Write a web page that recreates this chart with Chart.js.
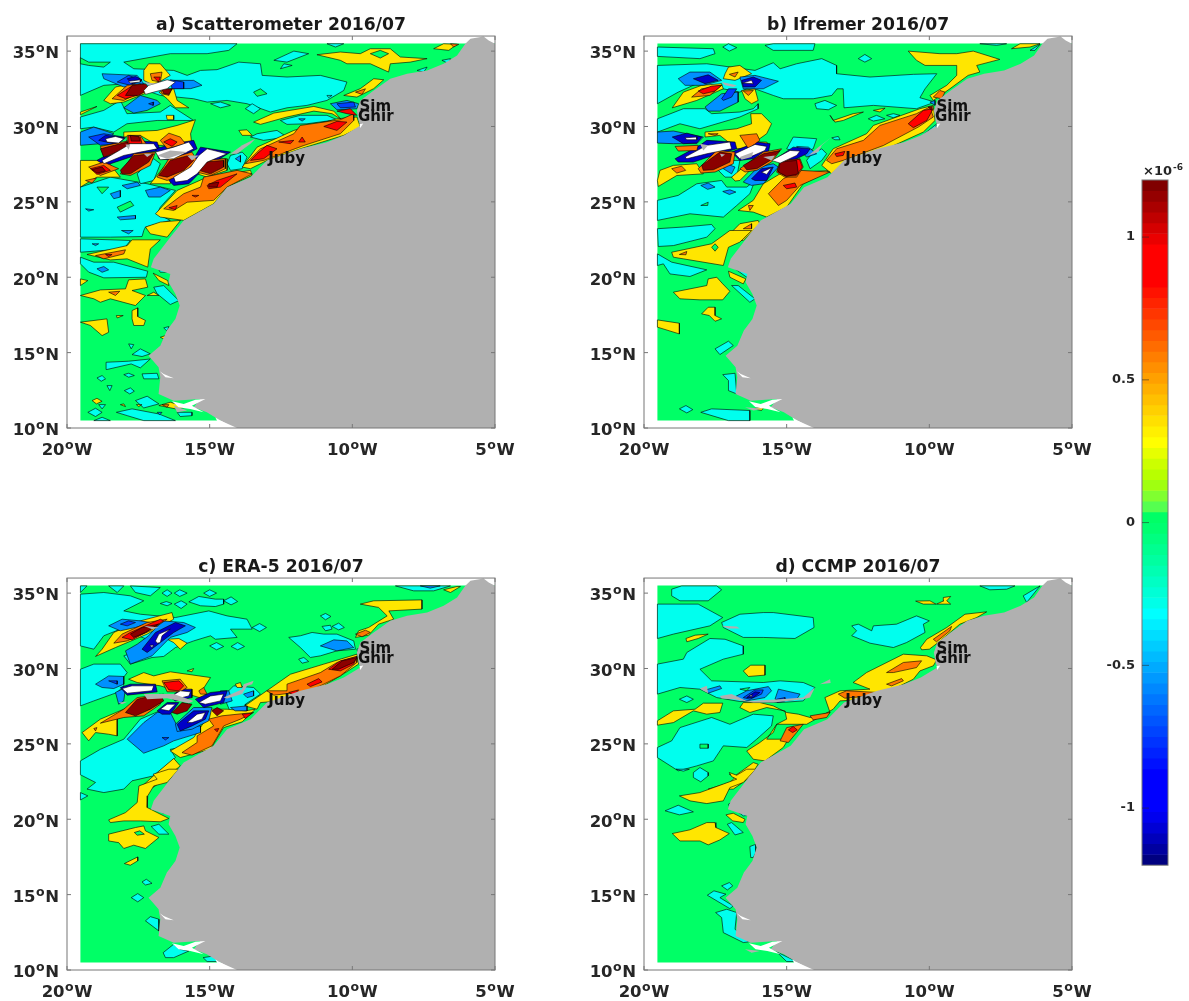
<!DOCTYPE html>
<html><head><meta charset="utf-8"><style>html,body{margin:0;background:#fff}canvas{position:absolute}</style>
<script src="https://cdn.jsdelivr.net/npm/chart.js@4"></script></head><body>
<script>
const latTicks=[10,15,20,25,30,35];
const lonTicks=[-20,-15,-10,-5];
const cbarTicks=[-1,-0.5,0,0.5,1];
const stationNames=['Sim','Ghir','Juby'];
const stationLon=[-9.75,-9.8,-12.95];
const stationLat=[31.28,30.62,27.82];
const ocean=[[-19.53,10.5,-19.53,35.5,-5,35.5,-5,10.5]];
const land=[[-6.04,35.49,-5.86,35.82,-5.4,35.97,-5.22,35.71,-5,35.49,-5,10,-14.04,10,-14.63,10.49,-15.1,11.04,-15.56,11.37,-15.33,11.92,-16.26,11.81,-16.79,12.26,-16.73,13.36,-16.79,14.03,-17.14,14.8,-16.73,15.46,-16.5,16.46,-16.2,17.23,-16.05,18.12,-16.2,18.89,-16.44,19.67,-16.38,20.22,-17.06,20.66,-16.96,21.22,-16.38,22.65,-15.91,23.76,-14.86,24.87,-14.39,25.97,-13.57,26.64,-12.99,27.74,-11.82,28.52,-10.89,28.96,-10.3,29.4,-9.72,30.07,-9.78,30.4,-9.84,31.06,-9.72,31.73,-9.25,32.39,-8.67,33.16,-8.08,33.5,-7.38,33.72,-6.8,34.16,-6.33,34.71]];
const coastWhite=[[-16.32,11.77,-15.91,11.59,-15.5,11.88,-15.15,11.92,-15.62,11.48,-15.21,11.04,-15.68,11.26,-16.09,11.37],[-16.75,13.76,-16.55,13.36,-16.26,13.3,-16.61,13.58],[-14.8,10.7,-14.16,10,-14.63,10.05],[-9.75,30.15,-9.62,30.2,-9.72,29.9]];
const cbarColors=['#800000','#950000','#aa0000','#bf0000','#d50000','#ea0000','#ff0000','#ff0000','#ff0000','#ff0000','#ff1200','#ff2400','#ff3600','#ff4800','#ff5a00','#ff6c00','#ff7e00','#ff8f00','#ffa000','#ffb000','#ffc000','#ffd000','#ffe000','#fff000','#ffff00','#e6ff00','#ccff00','#b8ff00','#a0ff10','#80ff30','#55ff50','#00ff66','#00ff70','#00ff80','#00ff90','#00ffa0','#00ffb2','#00ffc4','#00ffd6','#00ffe8','#00ffff','#00eeff','#00ddff','#00ccff','#00bbff','#00aaff','#0099ff','#0088ff','#0077ff','#0066ff','#0055ff','#0044ff','#0033ff','#0022ff','#0011ff','#0000ff','#0000ff','#0000ff','#0000ff','#0000ee','#0000d5','#0000bb','#0000a0','#000080'];
const cbarEdges=[1.2,1.1625,1.125,1.0875,1.05,1.0125,0.975,0.9375,0.9,0.8625,0.825,0.7875,0.75,0.7125,0.675,0.6375,0.6,0.5625,0.525,0.4875,0.45,0.4125,0.375,0.3375,0.3,0.2625,0.225,0.1875,0.15,0.1125,0.075,0.0375,0,-0.0375,-0.075,-0.1125,-0.15,-0.1875,-0.225,-0.2625,-0.3,-0.3375,-0.375,-0.4125,-0.45,-0.4875,-0.525,-0.5625,-0.6,-0.6375,-0.675,-0.7125,-0.75,-0.7875,-0.825,-0.8625,-0.9,-0.9375,-0.975,-1.0125,-1.05,-1.0875,-1.125,-1.1625,-1.2];
const GREEN='#00ff66',CYAN='#00ffee',AZURE='#0090ff',BLUE='#0040ff',NAVY='#0000c8',YEL='#ffe600',ORANGE='#ff7700',RED='#ff0000',DARK='#8b0000',WHITE='#ffffff',GRAY='#b0b0b0';

const aCyan=[[-19.53,35.49,-14.04,35.49,-14.33,35.05,-15.09,34.83,-16.38,34.83,-18.01,34.27,-17.66,33.83,-16.26,33.72,-15.79,33.39,-15.32,33.72,-14.74,33.77,-13.98,34.27,-13.22,34.16,-13.16,33.39,-12.29,33.28,-11.12,33.39,-10.19,32.95,-10.3,32.39,-10.89,31.73,-11.59,31.4,-12.29,31.24,-12.87,30.96,-13.69,31.51,-14.39,31.73,-15.09,31.62,-15.56,31.84,-16.73,32.06,-17.9,32.84,-18.71,32.73,-19.53,32.06],
[-19.53,30.63,-18.71,31.07,-18.13,31.73,-17.9,30.85,-16.73,30.96,-16.38,31.4,-15.56,30.4,-16.84,30.4,-17.9,30.18,-18.36,29.63,-19.07,29.96,-19.53,29.85],
[-19.53,25.98,-18.48,26.64,-17.19,26.2,-16.2,25.76,-16.73,24.65,-16.84,24.21,-16.38,23.77,-17.25,23.33,-17.31,23.1,-17.37,22.7,-18.48,22.66,-19.53,22.66],
[-17.54,26.86,-17.19,27.53,-16.96,27.86,-16.73,27.53,-16.96,26.42,-17.43,26.2],
[-14.39,27.53,-14.27,28.08,-13.86,28.3,-13.69,27.97,-13.86,27.2,-14.27,27.09],
[-13.34,29.52,-12.64,29.74,-12.29,29.3,-13.11,29.08,-13.57,29.3],
[-12.52,30.4,-11.82,30.74,-10.89,30.74,-10.54,30.45,-11.59,30.18,-12.29,30.14],
[-14.97,31.51,-14.62,31.62,-14.27,31.4,-14.62,31.24],[-13.75,31.18,-13.51,31.51,-13.22,31.18,-13.46,30.85],[-10.89,32.06,-10.71,32.06,-10.83,31.91],
[-12.75,34.39,-12.05,35.0,-11.53,34.83,-12.29,34.27],[-12.4,34.16,-12.11,34.05,-12.52,33.83],[-10.89,35.49,-10.3,35.49,-10.59,35.27],[-6.86,34.39,-6.56,34.5,-6.62,34.16],[-7.73,33.72,-7.38,33.94,-7.5,33.61],
[-19.53,22.55,-17.78,22.44,-18.01,21.88,-19.53,21.66],[-19.53,21.33,-19.06,21,-18.36,21,-17.17,20.4,-17.22,20,-18.71,19.96,-19.24,20.34,-19.53,20.89],
[-16.96,19.34,-16.61,19.45,-16.08,18.45,-16.38,18.19,-16.84,18.9],[-16.78,20.49,-16.43,20.49,-16.43,20.33,-16.73,20.33],[-16.61,16.64,-16.43,16.73,-16.49,16.42],[-17.84,15.58,-17.66,15.53,-17.75,15.25],[-17.72,14.87,-17.43,15.25,-17.08,14.92,-17.37,14.74],
[-18.63,14.36,-17.84,14.43,-17.08,14.58,-17.43,13.99,-17.75,14.25,-18.6,13.88],[-18.95,13.32,-18.77,13.48,-18.65,13.26,-18.8,13.1],[-18.01,13.54,-17.84,13.63,-17.64,13.48,-17.84,13.37],[-17.37,13.59,-16.84,13.63,-16.78,13.26,-17.31,13.26],[-18.6,12.81,-18.42,12.81,-18.5,12.48],[-17.99,12.48,-17.78,12.66,-17.64,12.44,-17.8,12.26],[-17.6,11.82,-17.19,12.11,-16.78,11.6,-17.31,11.33],[-19.27,11.04,-19.0,11.31,-18.77,11.04,-19.0,10.76],[-18.27,11.04,-17.72,11.27,-16.78,10.93,-16.2,10.49,-17.31,10.49,-17.89,10.82],[-19.06,10.49,-18.77,10.71,-18.48,10.49],[-16.14,11.04,-15.62,11.04,-15.62,10.82,-16.03,10.76],[-18.89,11.55,-18.65,11.55,-18.77,11.27]];
const aGreen=[[-19.53,34.56,-19.24,34.27,-18.48,34.27,-18.71,33.94,-19.24,34.05,-19.53,34.16],[-13.46,32.28,-13.22,32.5,-12.99,32.17,-13.34,32.0],[-18.24,24.65,-17.78,25.05,-17.66,24.76,-18.13,24.32],[-18.95,25.98,-18.54,25.98,-18.77,25.54]];
const aYellow=[[-17.31,33.72,-17.14,34.16,-16.73,34.16,-16.38,33.39,-16.96,32.73,-17.31,33.06],[-18.71,31.73,-18.3,32.62,-17.43,32.95,-17.14,32.28,-18.01,31.62,-18.48,31.51],[-16.78,32.28,-16.26,32.51,-16.14,31.73,-15.73,31.24,-16.2,31.24,-16.49,31.84],[-19.53,30.96,-18.95,31.33,-19.53,30.78],[-16.52,30.74,-16.26,30.74,-16.26,30.45,-16.49,30.45],
[-18.01,29.63,-16.84,29.74,-16.14,30.07,-15.5,30.45,-15.67,29.52,-15.62,28.75,-16.84,28.75,-17.43,29.41,-18.01,29.3],[-13.98,29.74,-13.69,29.78,-13.51,29.41,-13.86,29.41],[-19.53,27.75,-18.6,27.75,-18.13,26.64,-18.95,26.64,-19.53,25.98],[-17.08,26.2,-16.61,27.31,-16.26,27.75,-16.38,26.2],[-15.44,26.86,-15.21,27.86,-14.39,27.86,-14.39,27.09,-15.09,26.64],
[-16.9,24.21,-16.14,25.76,-15.09,26.64,-13.57,27.09,-13.51,26.76,-14.39,25.98,-14.86,24.87,-15.91,23.77,-16.73,23.99],[-13.86,27.31,-13.34,28.63,-12.05,29.74,-10.54,30.51,-9.84,30.63,-9.72,29.96,-10.3,29.41,-11.82,28.52,-12.99,27.75,-13.57,27.2],[-13.46,30.29,-12.75,30.89,-11.35,31.33,-10.65,31.02,-10.4,30.49,-10.71,30.85,-11.35,31.02,-12.29,30.63,-13.22,30.14],
[-11.24,34.76,-10.42,34.94,-9.72,34.83,-9.37,35.16,-8.67,35.16,-8.32,34.61,-7.38,34.5,-7.97,34.27,-8.67,34.16,-8.73,33.61,-9.37,34.16,-10.19,34.16,-10.42,34.39],[-10.3,32.06,-9.72,32.51,-9.25,33.17,-8.9,33.1,-9.25,32.51,-9.84,31.95],[-7.15,35.16,-6.8,35.49,-6.33,35.45,-6.62,35.05],[-17.25,23.33,-16.73,23.66,-16.02,23.77,-16.49,22.66,-17.08,22.88],
[-19.3,21.51,-17.89,22.1,-17.72,22.48,-16.73,22.48,-17.08,21.88,-17.17,20.67,-17.89,21.22,-18.48,21.15],[-19.53,19.89,-19.27,19.78,-19.53,19.45],[-19.53,18.79,-18.83,19.16,-17.95,19.23,-17.84,19.83,-17.25,19.89,-17.17,19.34,-17.72,19.12,-17.25,18.79,-17.6,18.12,-18.48,18.57,-18.83,18.34,-19.06,18.57],[-16.98,20.27,-16.47,19.78,-16.43,19.45,-16.78,19.78],[-17.19,18.79,-16.96,19.01,-16.78,18.79],[-17.72,17.79,-17.52,17.97,-17.52,17.39,-17.25,17.13,-17.31,16.8,-17.66,16.8,-17.72,17.24],[-18.27,17.46,-18.03,17.46,-18.24,17.3],[-19.53,17.02,-18.6,17.24,-18.54,16.35,-18.77,16.13,-19.18,16.8],[-16.73,16.02,-16.55,16.13,-16.55,15.84],[-19.12,11.82,-18.95,11.97,-18.77,11.77,-18.97,11.6],[-18.13,11.55,-18.01,11.6,-17.95,11.42],[-17.57,11.55,-17.37,11.55,-17.49,11.42],[-16.78,11.49,-16.38,11.71,-15.79,11.38,-16.2,11.27]];
const aHole=[[-9.37,34.83,-9.02,35.05,-8.73,34.83,-9.02,34.54]];
const aOrange=[[-17.08,33.5,-16.67,33.61,-16.73,32.95,-17.02,33.06],[-18.42,31.84,-17.89,32.73,-17.43,32.84,-17.31,32.39,-18.01,31.73],[-16.73,32.5,-16.32,32.5,-16.43,32.06,-16.67,32.17],[-16.73,29.08,-16.43,29.56,-16.03,29.3,-15.85,28.86,-16.49,28.52],[-19.24,27.31,-18.71,27.64,-18.19,27.2,-18.83,26.75],[-17.89,29.41,-17.43,29.41,-17.19,28.75,-17.89,28.63],[-18.83,28.68,-17.89,29.03,-18.01,28.3,-18.71,27.97],[-18.13,26.86,-17.66,28.19,-16.9,28.3,-17.08,27.42,-17.78,26.75],[-16.84,26.64,-16.43,27.86,-15.62,28.3,-15.44,27.75,-15.91,26.86,-16.49,26.42],[-15.44,26.97,-15.27,27.75,-14.45,27.86,-14.45,27.2,-14.97,26.75],[-19.35,26.42,-18.97,26.58,-19.12,26.25],
[-15.91,25.54,-15.32,25.98,-15.21,26.64,-14.04,27.09,-13.51,26.86,-14.39,25.98,-14.86,25.1,-15.79,24.98,-16.26,24.43,-16.61,24.54],[-13.75,27.53,-13.22,28.52,-12.05,29.52,-11.82,30.07,-10.42,30.45,-9.95,30.85,-9.95,30.4,-10.42,29.52,-11.7,28.74,-13.11,27.75],[-9.89,32.28,-9.54,32.5,-9.66,32.13],[-6.56,35.49,-6.27,35.45,-6.45,35.27],[-19.0,21.44,-17.95,21.82,-18.01,21.55,-18.71,21.22],[-18.54,19.01,-18.15,19.07,-18.3,18.79],[-16.67,11.55,-16.43,11.55,-16.49,11.38]];
const aRed=[[-16.96,33.28,-16.73,33.28,-16.79,32.95],[-18.24,32.06,-17.78,32.62,-17.49,32.73,-17.54,32.06,-17.95,31.84],[-16.61,28.97,-16.38,29.19,-16.14,28.97,-16.32,28.68],[-17.84,29.41,-17.43,29.3,-17.37,28.86,-17.84,28.86],[-19.18,27.2,-18.71,27.42,-18.48,27.09,-18.95,26.82],[-13.57,27.75,-13.34,28.19,-12.99,28.75,-12.64,28.52,-13.11,27.86],[-12.58,28.97,-12.05,29.08,-12.17,28.86],[-11.76,29.3,-11.65,28.97,-11.88,28.97],[-11.0,30.0,-10.54,30.34,-10.19,30.29,-10.54,29.74],[-10.54,31.02,-10.07,31.18,-9.84,30.74,-10.19,30.85],[-15.09,26.09,-14.74,26.42,-14.04,26.86,-14.62,25.98,-15.03,25.87],[-15.62,25.43,-15.38,25.43,-15.5,25.32],[-16.43,24.61,-16.14,24.76,-16.2,24.48],[-18.65,21.51,-18.42,21.51,-18.54,21.37]];
const aDark=[[-17.95,32.06,-17.72,32.73,-17.25,32.84,-17.08,32.51,-17.49,32.06],[-16.67,32.46,-16.32,32.5,-16.43,32.13,-16.61,32.17],[-18.83,28.52,-17.89,28.97,-17.78,28.63,-18.71,27.97],[-18.13,27.09,-17.66,28.08,-16.96,28.19,-17.14,27.64,-17.78,26.86,-18.07,26.86],[-16.78,26.75,-16.38,27.75,-15.73,28.08,-15.56,27.75,-15.91,27.09,-16.49,26.64],[-15.38,27.09,-15.21,27.64,-14.51,27.75,-14.51,27.31,-14.97,26.86],[-17.78,29.41,-17.49,29.34,-17.43,29.03,-17.75,29.03],[-15.03,26.2,-14.68,26.31,-14.74,25.98,-15.03,25.98],[-19.12,27.15,-18.77,27.31,-18.65,27.04,-18.95,26.91]];
const aAzure=[[-18.77,33.5,-17.54,33.39,-17.31,32.84,-18.01,32.62,-18.71,33.17],[-16.26,33.06,-15.56,33.06,-15.27,32.73,-15.67,32.51,-16.26,32.51],[-18.01,31.24,-17.43,32.06,-16.84,31.73,-16.73,31.51,-17.19,31.07,-17.66,30.89],[-19.53,29.63,-19.06,29.96,-18.36,29.52,-18.83,28.86,-19.53,28.75],[-10.77,31.51,-10.19,31.73,-9.78,31.51,-9.84,31.18,-10.54,31.11],[-18.48,25.54,-18.13,25.76,-18.13,25.32,-18.36,25.21],[-17.25,25.76,-16.73,25.98,-16.38,25.76,-16.73,25.32,-17.14,25.32],[-18.07,26.09,-17.54,26.31,-17.43,26.09,-17.89,25.87],[-14.1,27.86,-13.92,28.08,-13.92,27.64],[-19.35,24.54,-19.06,24.48,-19.24,24.39],[-18.24,23.99,-17.6,24.1,-17.6,23.88,-18.13,23.81],[-11.88,30.51,-11.65,30.51,-11.76,30.36],[-19.12,22.22,-18.89,22.22,-19.0,22.1],[-18.95,20.56,-18.71,20.71,-18.54,20.49,-18.77,20.33],[-18.09,23.1,-17.68,23.1,-17.84,22.88],[-16.84,11.04,-16.67,11.04,-16.75,10.87]];
const aBlue=[[-18.24,32.95,-17.84,33.39,-17.37,33.06,-17.78,32.73],[-16.38,33.1,-15.91,32.95,-15.91,32.51,-16.32,32.51],[-19.24,29.3,-18.71,29.52,-18.01,29.3,-18.24,28.86,-18.83,28.75],[-10.54,31.51,-9.95,31.62,-9.89,31.29,-10.42,31.24],[-17.14,31.51,-16.96,31.62,-16.98,31.4]];
const aNavy=[[-17.89,33.17,-17.6,33.32,-17.37,33.1,-17.72,32.84],[-18.95,27.75,-18.13,28.63,-17.89,29.08,-16.84,28.97,-16.73,28.41,-17.43,28.19,-18.65,27.42],[-16.43,26.42,-15.67,27.53,-15.32,28.63,-14.27,28.3,-15.21,27.2,-15.73,26.2,-16.26,26.09],[-16.9,28.52,-16.26,28.86,-15.56,29.08,-15.44,28.52,-16.26,27.75,-16.78,27.86],[-18.89,29.08,-18.65,29.41,-17.95,29.25,-18.24,28.81]];
const aWhite=[[-17.84,33.0,-17.43,33.1,-17.43,32.95,-17.78,32.88],[-17.31,32.39,-17.14,32.73,-16.49,33.1,-16.2,32.95,-16.49,32.51,-16.96,32.28,-17.25,32.13],[-18.65,29.19,-18.3,29.34,-18.01,29.19,-18.19,28.9,-18.6,28.97],[-18.77,27.75,-18.07,28.52,-17.78,28.86,-16.96,28.86,-16.84,28.52,-17.43,28.3,-18.01,28.08,-18.71,27.53],[-16.9,28.3,-16.26,28.63,-15.73,28.97,-15.56,28.52,-16.26,27.86,-16.73,27.79],[-16.26,26.64,-15.67,27.31,-15.38,28.08,-15.09,28.52,-14.39,28.19,-15.09,27.64,-15.44,26.86,-15.79,26.42,-16.2,26.31]];
const aGray=[[-16.84,28.08,-16.38,28.41,-15.79,28.3,-16.49,27.86],[-17.31,32.95,-16.84,32.84,-17.14,32.73],[-14.27,28.19,-13.86,28.75,-13.4,29.19,-13.57,28.86,-14.04,28.19],[-15.79,28.08,-15.38,28.08,-15.62,27.75],[-17.95,28.81,-17.78,28.81,-17.84,28.46],[-17.31,28.19,-17.02,28.19,-17.19,27.97],[-16.26,11.49,-15.79,11.16,-16.14,11.04],[-16.43,19.78,-16.32,19.78,-16.38,19.45]];

const bCyan=[[-19.53,34.05,-17.8,34.16,-16.11,33.72,-15.47,34.23,-15.23,33.83,-14.65,34.16,-13.77,34.5,-13.25,34.05,-13.25,33.5,-12.08,33.28,-10.56,33.46,-9.74,33.5,-10.15,32.5,-10.33,31.91,-9.8,31.62,-10.45,31.18,-11.96,31.4,-12.99,31.24,-13.02,32.5,-13.23,32.5,-13.42,32.06,-14.07,31.84,-15.12,31.84,-15.47,32.06,-16.29,32.62,-16.64,32.28,-18.15,32.84,-18.8,32.28,-19.53,31.51],
[-19.53,30.51,-18.62,31.18,-17.86,31.18,-17.63,30.85,-16.64,30.96,-16.17,31.18,-16.0,31.51,-16.0,31.18,-16.64,30.63,-18.04,29.85,-18.74,30.18,-19.53,29.63],[-19.53,35.27,-17.57,35.16,-17.51,34.83,-18.04,34.5,-19.53,34.65],[-15.76,35.38,-15.47,35.49,-14.01,35.49,-14.07,35.05,-15.47,35.05],[-17.24,35.27,-17.04,35.49,-16.75,35.23,-17.01,35.0],[-12.49,34.5,-12.26,34.78,-12.02,34.5,-12.26,34.27],[-8.23,35.49,-7.29,35.49,-7.64,35.38],[-14.01,31.51,-13.66,31.73,-13.25,31.4,-13.54,31.11,-13.95,31.18],[-15.0,28.52,-14.77,29.3,-13.95,29.19,-14.07,28.52,-14.53,28.19],[-12.14,30.51,-11.85,30.74,-11.56,30.51,-11.96,30.36],[-11.5,30.74,-11.26,30.85,-11.03,30.74,-11.26,30.58],[-13.42,29.25,-13.19,29.34,-13.13,29.12,-13.31,29.12],
[-19.53,25.1,-18.8,25.43,-18.15,26.2,-17.28,26.42,-17.1,25.98,-16.4,25.98,-16.11,26.42,-16.29,25.54,-16.75,24.76,-17.22,23.99,-18.39,24.21,-19.53,23.77],[-19.53,23.22,-18.62,23.33,-17.63,23.5,-17.51,23.22,-17.8,22.66,-18.97,22.1,-19.5,22.04],[-17.22,27.75,-16.64,27.75,-16.75,26.64,-17.16,26.64,-17.45,27.2],[-10.45,29.08,-9.74,30.18,-9.8,29.85,-10.21,29.08],[-6.47,35.05,-6.12,35.45,-6.3,35.05],[-14.3,27.75,-14.12,28.19,-13.77,28.52,-13.6,28.19,-13.77,27.75,-14.18,27.2],
[-19.53,21.55,-19.03,21.0,-17.8,20.49,-18.39,20.05,-19.09,20.22,-19.32,20.89,-19.53,20.78],[-16.81,20.56,-16.58,20.67,-16.29,20.33,-16.4,20.0],[-16.93,19.45,-16.7,19.45,-16.11,18.57,-16.29,18.34],[-17.51,15.25,-17.04,15.76,-16.87,15.47,-17.34,14.87],[-17.24,13.54,-16.81,13.63,-16.75,12.26,-17.04,12.48,-17.04,13.15],[-18.76,11.27,-18.53,11.49,-18.29,11.22,-18.5,11.0],[-18.01,11.04,-17.63,11.27,-16.29,11.16,-16.29,10.49,-17.04,10.49]];
const bGreen=[[-18.01,24.76,-17.75,24.98,-17.77,24.76]];
const bYellow=[[-17.16,33.5,-17.04,33.94,-16.64,34.05,-16.23,33.5,-16.81,33.06,-17.22,33.17],[-19.01,31.24,-18.62,32.28,-17.98,32.73,-17.28,32.84,-17.22,32.5,-18.15,31.73],[-16.58,32.39,-16.11,32.5,-16.0,31.73,-16.23,31.51,-16.46,31.84],[-17.86,29.63,-16.75,29.85,-16.23,30.18,-16.26,30.85,-15.88,30.85,-15.53,30.18,-15.7,29.52,-16.11,28.97,-15.7,28.97,-15.64,28.75,-16.75,28.52,-17.34,29.41,-17.86,29.3],[-19.53,26.42,-19.44,27.09,-18.97,27.42,-18.15,27.53,-17.92,26.86,-18.85,26.75,-19.5,26.02],[-16.93,26.64,-16.52,27.31,-16.17,27.31,-16.64,26.42,-16.81,26.38],[-16.7,24.43,-16.17,25.1,-15.82,26.2,-15.23,26.86,-13.48,27.09,-14.42,26.2,-15.0,24.65,-15.7,23.99,-16.17,24.32],[-17.22,22.44,-16.64,23.55,-16.0,23.77,-15.94,23.55,-16.52,22.44],
[-13.77,27.42,-13.37,28.52,-12.2,29.52,-11.96,30.07,-10.33,31.18,-9.86,31.4,-9.8,30.4,-10.21,29.63,-11.5,28.52,-12.9,27.75,-13.42,26.86],[-10.74,35,-9.63,34.83,-9.04,34.83,-8.46,35,-7.53,34.45,-8.34,34.05,-8.23,33.61,-8.64,33.39,-9.28,32.5,-9.86,31.73,-9.98,32.06,-9.39,32.73,-9.04,33.39,-9.04,34.05,-10.15,34.05,-10.45,34.39],[-13.48,30.74,-13.37,30.4,-12.67,30.85,-12.31,30.96,-13.02,30.4,-13.31,30.29],[-11.96,31.07,-11.55,31.22,-11.73,30.96],[-7.12,35.16,-6.82,35.49,-6.12,35.49,-6.47,35.27],
[-19.03,21.66,-17.63,22.22,-16.99,23.1,-16.23,23.1,-16.64,22.33,-17.04,21.99,-17.22,20.78,-18.62,21.22,-18.97,21.33],[-18.97,19.01,-17.8,19.45,-17.75,19.89,-17.45,20.0,-17.24,19.56,-16.99,19.07,-17.24,18.5,-18.04,18.5,-18.74,18.57],[-17.04,20.4,-16.43,19.89,-16.52,19.56,-16.99,20.0],[-17.98,17.57,-17.75,18.01,-17.51,18.01,-17.51,17.46,-17.28,17.24,-17.51,17.08,-17.71,17.46],[-19.53,17.17,-18.76,16.95,-18.76,16.24,-19.53,16.69],[-16.17,11.27,-15.76,11.49,-15.88,11.16]];
const bHole=[[-17.63,21.99,-17.51,22.22,-17.4,21.99,-17.51,21.73]];
const bOrange=[[-17.01,33.46,-16.7,33.61,-16.81,33.28],[-18.33,31.95,-17.98,32.5,-17.28,32.73,-17.69,32.06],[-16.52,32.35,-16.17,32.39,-16.34,32.06],[-16.64,29.41,-16.05,29.52,-15.94,29.08,-16.34,28.52],[-18.91,28.68,-18.1,28.75,-18.15,28.41,-18.8,28.37],[-17.75,29.52,-17.4,29.52,-17.51,29.41],[-19.03,27.2,-18.68,27.37,-18.54,27.09,-18.85,26.91],[-15.64,25.54,-15.12,26.53,-14.53,27.09,-13.48,26.98,-14.53,26.09,-15.0,25.1,-15.29,24.76],[-16.34,24.76,-16.17,24.76,-16.29,24.43],[-16.52,23.22,-16.23,23.55,-16.23,23.22],[-13.6,27.75,-13.25,28.52,-12.31,29.08,-11.73,30.07,-10.45,30.85,-9.98,31.29,-9.86,30.63,-10.39,29.96,-11.61,28.74,-13.02,27.75,-13.42,27.53],[-9.86,31.95,-9.63,32.39,-9.45,32.28,-9.57,31.84],[-18.76,21.51,-18.5,21.71,-18.53,21.49],[-18.1,27.2,-17.45,28.41,-16.81,28.3,-16.87,27.53,-17.51,26.98,-18.0,26.91],[-16.64,27.2,-15.82,28.3,-15.18,28.52,-15.53,27.64,-16.05,27.09,-16.46,26.98],[-15.35,26.97,-15.23,27.75,-14.53,27.86,-14.42,27.31,-14.65,26.64,-15.06,26.64]];
const bRed=[[-18.1,32.35,-17.63,32.68,-17.28,32.73,-17.51,32.35,-17.92,32.17],[-15.12,26.09,-14.71,26.25,-14.65,25.98,-15.0,25.87],[-13.31,28.19,-12.96,28.35,-13.02,28.08,-13.25,28.01],[-10.74,30.18,-10.21,31.07,-9.86,31.18,-10.09,30.4,-10.56,29.92],[-15.33,27.04,-15.21,27.7,-14.55,27.82,-14.45,27.31,-14.67,26.73,-15.04,26.71]];
const bDark=[[-17.98,27.42,-17.34,28.3,-16.93,28.19,-16.99,27.64,-17.57,27.13,-17.92,27.09],[-16.52,27.42,-15.82,28.19,-15.23,28.41,-15.58,27.75,-16.05,27.2,-16.4,27.13],[-15.29,26.97,-15.23,27.64,-14.65,27.75,-14.59,26.86,-15.0,26.69],[-10.04,31.29,-9.89,31.33,-9.92,31.07]];
const bAzure=[[-18.8,33.17,-18.39,33.61,-17.69,33.61,-17.28,33.06,-17.92,32.73,-18.56,32.73],[-16.64,33.28,-16.11,33.39,-15.29,33.0,-15.82,32.5,-16.52,32.5],[-17.86,31.29,-17.28,32.17,-16.7,32.28,-16.7,31.62,-17.34,31.02,-17.75,31.02],[-19.53,29.63,-18.97,29.7,-17.92,29.3,-18.15,28.86,-18.97,28.86,-19.53,28.9],[-14.65,28.68,-14.24,28.63,-13.95,28.19,-14.3,27.97],[-17.22,27.2,-17.04,27.48,-16.81,27.31,-16.93,26.86],[-18.01,26.09,-17.75,26.25,-17.51,25.98,-17.77,25.83],[-17.24,25.69,-16.99,25.8,-16.78,25.65,-17.01,25.49],[-16.52,26.31,-16.0,27.31,-15.47,27.53,-15.29,27.31,-15.82,26.2,-16.23,26.09],[-9.98,31.62,-9.8,31.73,-9.8,31.4]];
const bBlue=[[-17.28,31.84,-17.04,32.5,-16.75,32.5,-16.93,31.95,-17.22,31.73]];
const bNavy=[[-18.27,33.17,-17.75,33.43,-17.4,33.06,-17.86,32.84],[-16.58,33.06,-16.17,33.28,-15.88,33.06,-16.11,32.62,-16.52,32.62],[-19.01,29.3,-18.5,29.56,-17.98,29.3,-18.15,28.9,-18.62,28.86],[-18.91,27.86,-18.04,28.75,-17.8,29.08,-16.81,28.97,-16.75,28.52,-17.57,28.08,-18.27,27.64,-18.8,27.64],[-16.93,28.3,-16.05,28.97,-15.58,28.86,-15.64,28.3,-16.17,27.86,-16.64,27.75],[-15.47,27.75,-14.77,28.63,-14.18,28.52,-14.3,28.19,-15.0,27.53],[-16.23,26.53,-15.88,27.2,-15.47,27.31,-15.7,26.42,-16.11,26.42]];
const bWhite=[[-16.55,32.88,-16.23,33.06,-16.17,32.84],[-18.56,29.25,-18.15,29.3,-18.15,29.12,-18.5,29.12],[-18.56,27.97,-17.8,28.75,-16.99,28.97,-16.93,28.52,-17.8,28.19,-18.5,27.86],[-16.81,28.19,-16.11,28.81,-15.7,28.68,-15.76,28.41,-16.29,27.97,-16.64,27.86],[-15.53,27.75,-14.88,28.41,-14.53,28.37,-14.65,28.08,-15.23,27.57],[-15.88,26.97,-15.53,27.26,-15.7,26.82]];
const bGray=[[-17.28,32.95,-16.75,32.73,-16.87,32.62,-17.16,32.73],[-14.24,28.08,-13.89,28.63,-13.42,29.3,-13.77,28.75,-13.89,28.3],[-16.64,27.97,-16.17,28.3,-16.23,27.97,-16.58,27.79],[-15.82,27.97,-15.41,28.08,-15.53,27.75],[-18.04,28.86,-17.75,28.75,-17.92,28.41],[-17.34,28.19,-17.16,28.15,-17.28,27.97],[-16.46,11.38,-15.82,11.27,-16.17,11.16]];

const cCyan=[[-19.53,35.48,-19.3,35.48,-19.53,35.04],[-18.54,35.48,-18.01,35.48,-18.24,35.04],[-17.78,35.48,-16.73,35.37,-17.08,34.82,-17.6,35.04],
[-19.53,34.93,-18.71,35.04,-17.78,34.82,-17.31,34.49,-18.01,33.82,-17.43,33.6,-16.2,33.38,-15.03,33.82,-14.39,33.49,-13.69,33.27,-13.51,32.61,-14.27,32.61,-14.04,32.06,-14.8,31.94,-14.97,32.17,-15.56,31.83,-16.2,31.39,-16.61,30.8,-17.02,30.73,-17.78,30.29,-18.01,30.84,-17.31,31.28,-17.19,31.94,-18.13,32.61,-18.71,32.17,-19.06,31.28,-19.53,31.5],
[-19.53,29.95,-19.06,30.29,-18.13,30.29,-17.89,29.73,-18.07,29.29,-18.01,28.85,-18.24,28.41,-19.06,27.85,-19.53,27.52],[-19.53,23.87,-18.83,24.64,-18.01,25.31,-17.43,26.64,-16.61,27.3,-16.26,26.41,-15.21,25.53,-15.56,24.87,-16.38,24.64,-16.2,24.09,-16.96,22.88,-17.72,22.55,-18.01,22.0,-18.71,21.77,-19.3,22.0,-19.0,22.44,-19.53,22.95],
[-12.23,32.06,-11.82,32.17,-11.41,32.39,-11.0,32.28,-10.54,32.28,-9.95,31.83,-9.89,31.28,-10.54,31.17,-11.12,30.84,-11.47,30.73,-11.82,31.39],[-14.51,28.18,-14.16,28.85,-13.46,28.74,-13.22,28.3,-13.75,27.63,-13.75,27.08,-14.27,27.08],
[-16.67,35,-16.49,35.22,-16.32,35,-16.49,34.78],[-16.24,35,-16.05,35.22,-15.79,35,-16.05,34.78],[-15.21,35,-15.0,35.22,-14.76,35,-15.0,34.78],[-16.73,34.31,-16.52,34.44,-16.32,34.31,-16.49,34.16],[-16.24,34.27,-16.0,34.49,-15.79,34.27,-16.0,33.98],[-15.73,34.42,-15.38,34.78,-14.8,34.6,-14.51,34.6,-14.51,34.27,-14.8,34.11,-15.32,34.16],[-14.51,34.49,-14.25,34.75,-14.02,34.44,-14.25,34.22],[-11.12,33.49,-10.94,33.65,-10.75,33.45,-10.94,33.23],[-13.51,32.72,-13.25,32.98,-13.01,32.72,-13.25,32.45],[-15.0,31.5,-14.76,31.72,-14.51,31.46,-14.76,31.24],[-14.25,31.46,-14.02,31.72,-13.78,31.46,-14.02,31.24],[-10.71,32.79,-10.48,33.01,-10.28,32.72,-10.48,32.56],[-11.06,32.79,-10.77,32.87,-10.71,32.61,-10.94,32.5],[-11.88,30.62,-11.7,30.73,-11.53,30.46,-11.76,30.35],[-8.49,35.48,-6.56,35.48,-7.15,35.15,-7.85,35.15],[-9.84,31.28,-9.72,31.39,-9.78,30.88],
[-19.53,21.77,-19.27,21.55,-19.53,21.28],[-16.82,20.62,-16.67,20.71,-16.43,20.49,-16.61,20.38],[-17.05,19.52,-16.78,19.67,-16.43,19.01,-16.78,19.01],[-17.37,15.84,-17.22,16.02,-17.02,15.75,-17.25,15.64],[-17.75,14.8,-17.52,15.07,-17.31,14.8,-17.52,14.52],[-17.25,13.26,-17.08,13.54,-16.78,13.37,-16.78,12.59],[-16.63,11.15,-16.26,11.71,-16.03,11.37,-15.73,11.26,-16.26,10.82,-16.55,10.82],[-15.23,10.82,-14.86,10.93,-14.68,10.56,-15.09,10.56]];
const cYellow=[[-19.0,30.8,-18.77,31.28,-18.36,32.39,-17.43,33.16,-16.32,33.71,-16.26,33.27,-17.19,32.28,-18.3,31.39],[-16.49,31.94,-16.08,31.99,-15.79,31.68,-16.03,31.28,-16.26,31.72],[-17.84,29.29,-17.31,29.73,-16.96,29.51,-16.38,29.78,-15.79,29.62,-14.97,29.4,-15.27,28.52,-14.97,27.85,-16.73,28.85,-17.54,29.07],[-19.47,25.75,-18.83,26.64,-18.01,27.3,-17.43,27.74,-18.01,26.86,-18.24,26.64,-18.24,25.53,-18.54,25.64,-19.0,25.75,-19.24,25.2],[-16.38,24.53,-15.56,25.42,-15.21,26.41,-15.09,27.3,-14.39,27.3,-13.75,27.19,-13.4,27.3,-13.86,26.46,-14.51,26.08,-14.97,24.64,-16.03,24.09],[-17.48,22,-16.84,23.1,-16.26,24.03,-16.03,23.54,-16.73,22.43,-17.08,22.0],[-13.77,27.52,-13.0,28.52,-12.17,29.62,-11.0,30.29,-9.84,30.95,-9.78,30.29,-10.42,29.51,-11.82,27.96,-13.22,27.74,-13.34,27.3],[-9.72,34.27,-9.25,34.49,-7.56,34.55,-7.56,33.94,-8.72,33.82,-8.55,33.27,-9.08,32.94,-9.43,32.21,-9.89,32.06,-9.78,32.5,-9.43,32.72,-8.78,33.49,-9.08,34.05],[-6.8,35.22,-6.33,35.44,-6.21,35.44,-6.56,35.04],[-14.1,28.96,-13.92,29.07,-13.86,28.74,-14.04,28.74],[-15.79,29.84,-15.56,30.0,-15.62,29.78],
[-17.54,21.11,-17.48,22.21,-16.84,22.66,-16.98,22.99,-16.43,23.32,-16.08,23.32,-16.49,22.44,-16.96,22.21,-17.17,21.55,-17.19,20.78,-16.43,20.05,-16.73,19.83,-17.43,19.89,-18.01,19.89,-18.48,19.78,-18.54,19.96,-17.95,20.44],[-18.54,19.01,-17.6,19.45,-17.31,19.56,-17.25,19.23,-16.78,18.79,-17.25,18.06,-17.66,18.28,-18.01,18.06,-18.19,18.45,-18.54,18.56],[-17.99,17.06,-17.52,17.5,-17.52,17.24,-17.78,16.95]];
const cHole=[[-17.64,19.12,-17.45,19.23,-17.29,19.01,-17.54,18.94]];
const cOrange=[[-18.36,31.68,-18.07,32.28,-17.19,33.05,-16.49,33.27,-17.08,32.5,-17.89,31.83],[-16.67,29.18,-16.03,29.29,-15.79,28.74,-16.03,28.45,-16.49,28.45],[-15.38,28.52,-15.21,28.74,-15.09,28.3,-15.32,28.3],[-18.83,26.37,-18.01,27.3,-17.54,28.07,-16.61,28.3,-16.73,27.63,-17.31,26.86,-18.01,26.75],[-19.06,26.02,-18.95,26.08,-19.0,25.86],[-15.97,24.42,-15.44,25.09,-15.44,25.53,-14.86,26.19,-15.03,26.64,-14.57,26.86,-13.46,27.08,-13.92,26.64,-14.51,26.19,-14.92,24.87,-15.62,24.25],[-13.0,28.52,-12.29,28.52,-12.29,28.96,-11.12,29.73,-10.54,30.4,-9.84,30.8,-9.84,30.4,-10.42,29.51,-11.47,28.52,-12.75,28.23],[-9.89,32.28,-9.54,32.54,-9.37,32.39,-9.66,32.1]];
const cRed=[[-18.07,32.06,-17.78,32.39,-16.73,33.27,-16.61,33.16,-17.25,32.39,-17.72,31.9],[-16.61,29.07,-16.08,29.18,-15.91,28.85,-16.08,28.52,-16.43,28.58],[-11.59,28.96,-11.18,29.33,-11.06,29.11,-11.47,28.8],[-12.23,28.41,-11.88,28.58,-12.05,28.23],[-10.83,29.95,-10.42,30.51,-9.84,30.8,-9.95,30.29,-10.42,29.84],[-13.86,26.97,-13.51,27.03,-13.75,26.68],[-14.83,25.97,-14.68,26.02,-14.74,25.8]];
const cDark=[[-17.78,32.28,-17.37,32.72,-16.79,32.94,-17.25,32.39,-17.66,32.06],[-17.95,27.08,-17.54,27.96,-16.73,28.3,-16.61,27.85,-17.08,27.3,-17.6,26.86],[-16.32,27.08,-15.97,27.74,-15.62,27.63,-15.79,27.19,-16.14,26.97],[-14.92,27.19,-14.74,27.41,-14.51,27.19,-14.74,26.86],[-10.71,29.95,-10.36,30.51,-9.84,30.73,-9.95,30.4,-10.48,29.95]];
const cAzure=[[-18.54,32.83,-18.07,33.27,-17.43,33.16,-17.08,33.05,-17.6,32.72,-18.13,32.5],[-17.95,31.17,-17.54,31.61,-17.14,32.17,-16.67,33.16,-15.91,33.05,-15.5,32.72,-15.79,32.39,-16.38,32.06,-17.02,30.84,-17.78,30.29],[-19.0,28.96,-18.54,29.51,-18.01,29.47,-18.01,28.96,-18.36,28.67,-18.77,28.74],[-17.89,25.31,-17.31,26.41,-16.84,27.08,-16.38,27.08,-16.14,26.19,-15.32,26.19,-15.32,25.75,-16.26,25.2,-16.61,24.87,-17.31,24.38],[-11.12,31.5,-10.65,31.9,-10.19,31.83,-9.95,31.39,-10.54,31.17],[-7.62,35.48,-6.92,35.48,-7.27,35.33],[-14.62,28.52,-14.33,28.52,-14.21,27.85,-14.62,27.63],[-13.81,28.3,-13.46,28.52,-13.46,28.18,-13.69,28.07],[-14.27,27.41,-13.69,27.52,-13.69,27.19,-14.1,27.19],[-16.2,26.3,-15.56,27.41,-14.92,27.41,-15.03,26.53,-15.62,25.97,-16.14,25.82],[-18.3,28.41,-17.95,28.74,-18.01,27.85,-18.19,27.63]];
const cBlue=[[-18.13,32.94,-17.84,33.16,-17.6,33.05,-17.89,32.83],[-18.54,29.18,-18.24,29.18,-18.24,28.96],[-16.67,25.42,-16.43,25.42,-16.55,25.26]];
const cNavy=[[-17.37,31.28,-16.9,32.39,-16.2,33.05,-15.85,32.83,-16.26,32.39,-16.73,31.72,-17.19,31.06],[-18.13,28.74,-17.78,28.96,-16.9,28.96,-16.84,28.45,-17.89,28.23],[-16.38,28.07,-16.03,28.63,-15.62,28.63,-15.62,28.07,-16.2,27.85],[-15.5,27.96,-14.97,28.41,-14.39,28.52,-14.51,27.74,-15.21,27.41],[-16.84,27.19,-16.49,27.74,-16.08,27.74,-16.38,26.97,-16.67,26.97],[-16.14,26.3,-15.56,27.19,-15.03,27.19,-15.15,26.64,-15.62,26.19,-16.03,25.86]];
const cWhite=[[-16.9,31.83,-16.78,32.28,-16.38,32.61,-16.67,32.17,-16.73,31.72,-16.84,31.68],[-17.1,31.55,-16.96,31.55,-17.02,31.39],[-18.07,28.67,-17.72,28.85,-16.96,28.85,-17.02,28.52,-17.89,28.36],[-16.32,28.18,-16.03,28.52,-15.67,28.45,-15.73,28.18,-16.2,27.96],[-15.38,27.74,-14.97,28.18,-14.51,28.3,-14.62,27.85,-15.15,27.63],[-16.73,27.3,-16.49,27.63,-16.2,27.63,-16.43,27.19],[-15.79,26.41,-15.44,26.97,-15.15,27.08,-15.27,26.64,-15.62,26.41]];
const cGray=[[-17.31,32.83,-16.78,32.72,-17.02,32.61],[-17.31,28.3,-16.26,28.3,-15.56,27.85,-15.32,28.07,-15.73,27.7,-16.49,28.03,-17.19,27.96],[-14.51,28.07,-13.86,28.63,-13.81,28.96,-13.46,29.18,-13.51,28.96,-13.69,28.85,-13.86,28.3,-14.39,28.01],[-18.19,27.74,-17.89,27.79,-18.07,27.63]];

const dCyan=[[-19.03,35.26,-18.68,35.48,-17.45,35.48,-17.28,35.22,-17.75,34.49,-18.74,34.49,-19.03,34.82],[-19.53,34.27,-18.1,34.27,-17.24,33.38,-17.69,32.83,-18.97,32.28,-19.53,31.99],[-17.28,33.05,-16.64,33.6,-15.82,33.71,-15.47,33.71,-14.07,33.38,-14.04,32.72,-14.71,31.99,-15.82,32.06,-16.52,32.06,-17.22,32.72],
[-19.53,30.29,-18.62,30.62,-18.5,31.06,-17.69,31.99,-17.16,31.94,-16.52,31.5,-16.52,30.95,-17.22,30.62,-18.04,29.95,-17.63,29.18,-15.82,29.07,-15.23,29.18,-14.42,29.07,-14.01,28.74,-14.42,27.85,-15.23,27.74,-16.64,27.81,-17.45,28.07,-18.04,28.63,-18.74,28.74,-19.53,28.3],[-18.76,27.96,-18.5,28.18,-18.27,27.96,-18.5,27.74],[-12.72,32.83,-12.49,32.94,-12.02,32.5,-11.96,32.83,-11.15,32.94,-10.45,33.49,-10.0,33.16,-10.21,32.94,-10.15,32.39,-10.8,31.72,-11.26,31.39,-12.08,31.68,-12.72,32.17,-12.55,32.5],[-8.23,35.48,-7.0,35.48,-7.29,35.26,-7.88,35.22],[-6.71,34.82,-6.12,35.48,-6.59,34.38],[-10.33,29.29,-9.98,29.62,-10.21,29.29],
[-19.53,24.76,-19.03,25.2,-18.74,26.08,-17.63,26.75,-16.99,26.3,-16.17,26.97,-15.47,26.86,-15.53,26.19,-16.05,25.31,-16.4,24.76,-17.22,24.87,-17.57,23.87,-18.15,23.54,-18.8,23.21,-19.53,24.09],[-18.27,23.1,-18.04,23.43,-17.75,23.1,-17.75,22.88,-18.01,22.48,-18.27,22.77],[-18.88,23.32,-18.41,23.32,-18.62,23.19],[-19.26,20.56,-18.8,20.93,-18.27,20.49,-18.76,20.29],[-17.04,21.0,-16.89,21.17,-16.81,20.93,-16.99,20.78],[-16.75,20.56,-16.52,20.62,-16.29,20.27,-16.52,20.22],[-17.08,19.67,-16.93,19.78,-16.52,19.12,-16.81,18.96],[-16.29,18.19,-16.08,18.34,-16.08,17.79,-16.17,17.46,-16.26,17.46],[-17.28,15.58,-17.01,15.8,-16.89,15.58,-17.08,15.31],[-17.78,14.96,-17.55,15.25,-17.13,15.03,-17.34,14.8,-16.87,14.25,-16.99,14.07],[-17.49,13.81,-17.1,14.03,-16.75,13.81,-16.81,12.7,-16.4,12.04,-16.34,11.86,-16.52,11.82,-17.22,12.48,-17.28,13.48],[-15.35,11.2,-14.65,10.56,-15.0,10.56]];
const dGreen=[[-18.04,24.98,-17.75,24.98,-17.75,24.71,-18.04,24.71],[-16.64,28.63,-16.29,28.74,-16.4,28.52]];
const dYellow=[[-10.48,34.47,-9.98,34.49,-9.77,34.27,-10.21,34.27],[-9.75,34.27,-9.49,34.49,-9.51,34.71,-9.25,34.78,-9.39,34.49,-9.25,34.27],[-18.53,31.99,-18.21,32.21,-17.75,32.28,-18.1,31.99,-18.5,31.77],[-16.52,29.84,-16.26,30.22,-15.76,30.22,-15.76,29.56,-16.34,29.47],[-19.53,26.53,-18.97,27.19,-18.21,27.3,-17.92,27.7,-17.24,27.7,-17.34,27.08,-17.8,26.97,-18.27,27.19,-18.97,26.41,-19.53,26.24],
[-16.64,27.41,-16.52,27.74,-15.94,27.74,-15.47,27.52,-15.0,27.08,-14.59,26.97,-14.18,26.75,-13.48,27.08,-13.66,28.07,-13.13,28.52,-12.08,28.63,-12.67,29.07,-12.2,29.73,-10.91,30.95,-10.09,30.84,-9.74,30.57,-9.86,30.18,-10.33,29.84,-10.56,29.29,-11.38,28.52,-12.2,27.96,-13.13,27.85,-13.37,27.3,-14.3,26.3,-15.35,26.3,-15.7,25.31,-14.94,25.31,-15.12,24.76,-15.76,23.87,-16.17,23.98,-16.4,24.53,-15.94,25.09,-15.47,25.75,-15.35,26.3,-15.0,26.64,-15.06,27.19,-15.7,27.41,-16.29,27.08],
[-10.31,31.39,-10.09,31.94,-9.39,32.72,-8.75,33.6,-7.99,33.76,-8.34,33.38,-8.93,32.94,-9.69,31.72,-10.0,31.28,-10.27,31.24],[-17.75,22,-16.99,22.43,-16.81,22.77,-17.01,22.99,-16.81,22.88,-16.17,23.76,-16.0,23.65,-16.29,22.77,-16.87,22.0],[-17.01,23.1,-16.75,22.92,-16.4,23.32,-16.08,23.32,-16.52,22.44,-16.99,22.1,-17.22,21.22,-17.8,21.04,-18.39,21.22,-18.76,21.55,-18.04,21.77,-16.75,22.66,-16.93,22.83],[-17.13,20.29,-16.87,20.4,-16.46,20.0,-16.52,19.78,-16.89,19.89],[-19.01,19.05,-18.39,19.3,-17.8,19.78,-17.51,19.78,-17.48,19.45,-17.01,19.05,-17.34,18.63,-17.75,18.3,-18.04,18.56,-18.74,18.56]];
const dOrange=[[-13.19,28.3,-12.9,28.52,-11.79,28.41,-12.08,28.18,-12.96,28.03],[-11.5,29.73,-10.91,30.4,-10.27,30.51,-10.45,30.06,-11.26,29.73],[-11.5,28.96,-10.97,29.33,-10.91,29.18,-11.32,28.85],[-14.18,26.86,-13.48,27.08,-13.6,26.75,-14.07,26.59],[-15.23,25.2,-15.0,26.08,-14.42,26.3,-14.65,25.75,-14.94,25.09],[-9.86,31.94,-9.22,32.79,-9.28,32.5,-9.75,31.77]];
const dRed=[[-14.94,25.93,-14.77,26.15,-14.63,25.93,-14.79,25.75]];
const dAzure=[[-17.84,28.58,-17.34,28.85,-17.28,28.67,-17.75,28.36],[-16.87,28.07,-16.4,28.52,-15.64,28.8,-15.53,28.52,-15.76,28.07,-16.4,27.85],[-15.41,27.96,-15.29,28.63,-14.53,28.3,-14.65,27.96,-15.12,27.85]];
const dBlue=[[-16.52,28.07,-16.11,28.58,-15.82,28.58,-15.88,28.3,-16.29,27.96],[-15.35,27.96,-15.06,28.07,-15.06,27.85,-15.33,27.74]];
const dNavy=[[-16.4,28.07,-16.11,28.45,-15.94,28.41,-16.17,28.07]];
const dWhite=[[-16.31,28.23,-16.19,28.23,-16.25,28.12]];
const dGray=[[-18.04,28.67,-17.8,28.85,-17.75,28.36,-17.92,28.52],[-17.34,28.18,-16.93,28.3,-16.4,27.85,-15.23,27.96,-14.42,28.07,-14.01,28.74,-14.18,28.07,-14.42,27.96,-15.47,27.74,-16.17,27.74,-16.87,27.96,-17.28,28.01],[-17.28,32.83,-16.75,32.79,-16.64,32.65,-17.04,32.65],[-13.83,28.96,-13.48,29.29,-13.46,29.03],[-16.46,11.38,-15.94,11.26,-16.23,11.15]];

const FONT='"DejaVu Sans"',TXT='#262626';
function tickText(g,x,y,num,letter,align){g.textBaseline='middle';g.textAlign='left';g.fillStyle=TXT;const big='bold 16.5px '+FONT,small='bold 12.5px '+FONT;g.font=big;const wn=g.measureText(num).width,wl=g.measureText(letter).width;g.font=small;const wo=g.measureText('o').width;const tot=wn+wo+1+wl;let px=align==='right'?x-tot:x-tot/2;g.font=big;g.fillText(num,px,y);px+=wn+0.5;g.font=small;g.fillText('o',px,y-5);px+=wo+0.5;g.font=big;g.fillText(letter,px,y);}
const frame={id:'frame',afterDatasetsDraw(c){const a=c.chartArea,x=c.scales.x,y=c.scales.y,g=c.ctx;g.save();g.strokeStyle='#777';g.lineWidth=1;
 lonTicks.forEach(v=>{const p=x.getPixelForValue(v);g.beginPath();g.moveTo(p,a.top);g.lineTo(p,a.top+4);g.moveTo(p,a.bottom);g.lineTo(p,a.bottom-4);g.stroke();});
 latTicks.forEach(v=>{const p=y.getPixelForValue(v);g.beginPath();g.moveTo(a.left,p);g.lineTo(a.left+4,p);g.moveTo(a.right,p);g.lineTo(a.right-4,p);g.stroke();});
 g.strokeRect(a.left,a.top,a.right-a.left,a.bottom-a.top);
 g.fillStyle='#111';g.font='bold 15px '+FONT;g.textBaseline='middle';g.textAlign='left';
 stationNames.forEach((n,i)=>g.fillText(n,x.getPixelForValue(stationLon[i]),y.getPixelForValue(stationLat[i])));
 lonTicks.forEach(v=>tickText(g,x.getPixelForValue(v),a.bottom+23,String(Math.abs(v)),'W','center'));
 latTicks.forEach(v=>tickText(g,a.left-8,y.getPixelForValue(v)+3,String(v),'N','right'));
 g.restore();}};
function polyDatasets(layers){const all=[[ocean,GREEN,false]].concat(layers,[[land,GRAY,false],[coastWhite,WHITE,false]]);const out=[];
 all.forEach(([polys,col,edge])=>polys.forEach(p=>{const d=[];for(let i=0;i<p.length;i+=2)d.push({x:p[i],y:p[i+1]});d.push({x:p[0],y:p[1]});
 out.push({data:d,showLine:true,fill:'shape',backgroundColor:col,borderColor:edge===false?col:'#000',borderWidth:edge===false?0:0.6,pointRadius:0,tension:0});}));
 const n=out.length;out.forEach((d,i)=>d.order=n-i);return out;}
function panel(title,L,T,layers){const cv=document.createElement('canvas');cv.width=524;cv.height=457;cv.style.left=(L-66)+'px';cv.style.top=(T-30)+'px';cv.style.width='524px';cv.style.height='457px';document.body.appendChild(cv);
 new Chart(cv,{type:'scatter',data:{datasets:polyDatasets(layers)},plugins:[frame],options:{responsive:false,animation:false,events:[],layout:{padding:{right:30}},
 plugins:{legend:{display:false},tooltip:{enabled:false},title:{display:true,text:title,fullSize:false,color:'#1a1a1a',font:{family:FONT,size:17.2,weight:'bold'},padding:{top:9,bottom:0.4}}},
 scales:{x:{type:'linear',min:-20,max:-5,afterBuildTicks:s=>{s.ticks=lonTicks.map(v=>({value:v}))},afterFit:s=>{s.height=35},grid:{display:false},border:{display:false},ticks:{display:false}},
 y:{type:'linear',min:10,max:36,afterBuildTicks:s=>{s.ticks=latTicks.map(v=>({value:v}))},afterFit:s=>{s.width=66},grid:{display:false},border:{display:false},ticks:{display:false}}}}});}
panel('a) Scatterometer 2016/07',67,36,[[aCyan,CYAN],[aGreen,GREEN],[aYellow,YEL],[aHole,GREEN],[aAzure,AZURE],[aBlue,BLUE],[aNavy,NAVY],[aOrange,ORANGE],[aRed,RED],[aDark,DARK],[aWhite,WHITE],[aGray,GRAY,false]]);
panel('b) Ifremer 2016/07',644,36,[[bCyan,CYAN],[bGreen,GREEN],[bYellow,YEL],[bHole,GREEN],[bAzure,AZURE],[bBlue,BLUE],[bNavy,NAVY],[bOrange,ORANGE],[bRed,RED],[bDark,DARK],[bWhite,WHITE],[bGray,GRAY,false]]);
panel('c) ERA-5 2016/07',67,578,[[cCyan,CYAN],[cYellow,YEL],[cHole,GREEN],[cAzure,AZURE],[cBlue,BLUE],[cNavy,NAVY],[cOrange,ORANGE],[cRed,RED],[cDark,DARK],[cWhite,WHITE],[cGray,GRAY,false]]);
panel('d) CCMP 2016/07',644,578,[[dCyan,CYAN],[dGreen,GREEN],[dYellow,YEL],[dAzure,AZURE],[dBlue,BLUE],[dNavy,NAVY],[dOrange,ORANGE],[dRed,RED],[dWhite,WHITE],[dGray,GRAY,false]]);
const cbarFrame={id:'cbarFrame',afterDatasetsDraw(c){const a=c.chartArea,y=c.scales.y,g=c.ctx;g.save();g.strokeStyle='#777';g.lineWidth=1;g.strokeRect(a.left,a.top,a.right-a.left,a.bottom-a.top);g.strokeStyle='rgba(40,40,40,.55)';
 cbarTicks.forEach(v=>{const p=y.getPixelForValue(v);g.beginPath();g.moveTo(a.left,p);g.lineTo(a.left+7,p);g.stroke();});
 g.fillStyle=TXT;g.textBaseline='alphabetic';g.font='bold 13px '+FONT;g.fillText('\u00D710',a.left+1,a.top-5);g.font='bold 9px '+FONT;g.fillText('-6',a.left+31,a.top-10);g.restore();}};
const cc=document.createElement('canvas');cc.width=99;cc.height=730;cc.style.left='1090px';cc.style.top='150px';cc.style.width='99px';cc.style.height='730px';document.body.appendChild(cc);
new Chart(cc,{type:'bar',data:{labels:[''],datasets:cbarColors.map((col,i)=>({data:[[cbarEdges[i+1],cbarEdges[i]]],backgroundColor:col,borderWidth:0,grouped:false,barPercentage:1,categoryPercentage:1}))},plugins:[cbarFrame],
 options:{responsive:false,animation:false,events:[],layout:{padding:{top:30,bottom:14,right:21}},plugins:{legend:{display:false},tooltip:{enabled:false}},
 scales:{x:{display:false},y:{min:-1.2,max:1.2,afterBuildTicks:s=>{s.ticks=cbarTicks.map(v=>({value:v}))},afterFit:s=>{s.width=52},grid:{display:false,tickLength:0},border:{display:false},ticks:{autoSkip:false,padding:7,color:TXT,font:{family:FONT,size:13,weight:'bold'},callback:v=>String(v)}}}}});
</script></body></html>
